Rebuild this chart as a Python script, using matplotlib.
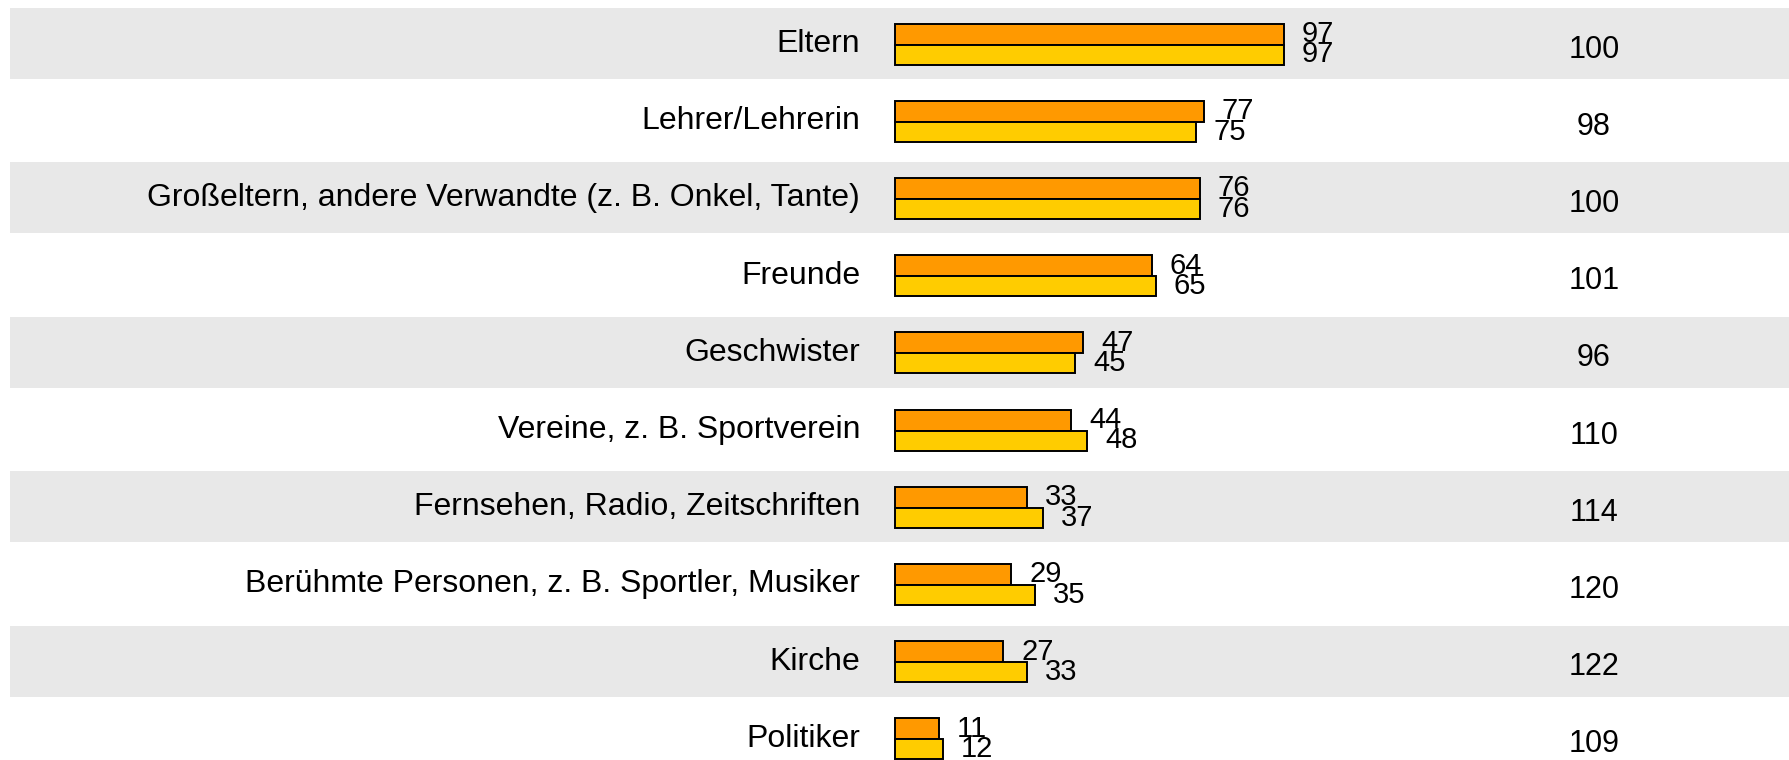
import matplotlib
matplotlib.use("Agg")
import matplotlib.pyplot as plt

categories = [
    "Eltern",
    "Lehrer/Lehrerin",
    "Großeltern, andere Verwandte (z. B. Onkel, Tante)",
    "Freunde",
    "Geschwister",
    "Vereine, z. B. Sportverein",
    "Fernsehen, Radio, Zeitschriften",
    "Berühmte Personen, z. B. Sportler, Musiker",
    "Kirche",
    "Politiker",
]
series_orange = [97, 77, 76, 64, 47, 44, 33, 29, 27, 11]
series_yellow = [97, 75, 76, 65, 45, 48, 37, 35, 33, 12]
index_values = [100, 98, 100, 101, 96, 110, 114, 120, 122, 109]

ORANGE = "#FF9900"
YELLOW = "#FFCC00"
BAND = "#E8E8E8"

W, H = 1789, 760
fig = plt.figure(figsize=(W / 100, H / 100), dpi=100)
ax = fig.add_axes([0, 0, 1, 1])

# pixel layout: value 0 at x=895, 4.01 px per unit; rows 77.2 px apart
px_unit = 4.01
x0 = 895
pitch = 77.2
top = 44.5
ax.set_xlim(-x0 / px_unit, (W - x0) / px_unit)
ax.set_ylim((H - top) / pitch, -top / pitch)
ax.axis("off")

n = len(categories)
for i in range(0, n, 2):
    ax.axhspan(i - 36.5 / pitch, i + 34.5 / pitch, xmin=10 / W, xmax=1,
               color=BAND, lw=0, zorder=0)

h_o = 21 / pitch
h_y = 20 / pitch
rows = list(range(n))
ax.barh([r - h_o for r in rows], series_orange, height=h_o, align="edge",
        color=ORANGE, edgecolor="black", linewidth=1.4, zorder=2)
ax.barh(rows, series_yellow, height=h_y, align="edge",
        color=YELLOW, edgecolor="black", linewidth=1.4, zorder=2)

sans = ["Liberation Sans", "DejaVu Sans"]
num_font = ["Liberation Sans Narrow", "Liberation Sans", "DejaVu Sans"]
off = 18 / px_unit
for i in rows:
    ax.text(-35 / px_unit, i + 7.5 / pitch, categories[i], ha="right",
            va="baseline", fontsize=23, family=sans)
    ax.text(series_orange[i] + off, i - h_o / 2, str(series_orange[i]),
            ha="left", va="center", fontsize=21, family=num_font, zorder=3)
    ax.text(series_yellow[i] + off, i + h_y / 2, str(series_yellow[i]),
            ha="left", va="center", fontsize=21, family=num_font, zorder=3)
    ax.text((1594 - x0) / px_unit, i + 13 / pitch, str(index_values[i]),
            ha="center", va="baseline", fontsize=22, family=sans)

fig.savefig("out.png", dpi=100, facecolor="white")
